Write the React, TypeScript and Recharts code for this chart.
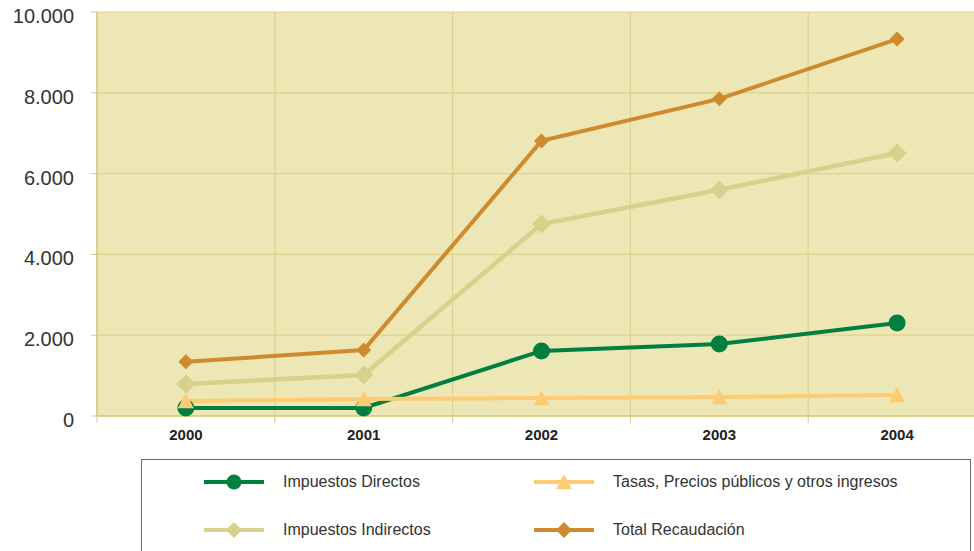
import React from 'react';
import { LineChart, Line, XAxis, YAxis, CartesianGrid } from 'recharts';

const years = ['2000', '2001', '2002', '2003', '2004'];
const directos = [200, 200, 1610, 1780, 2300];
const tasas = [370, 420, 445, 470, 520];
const indirectos = [790, 1015, 4750, 5600, 6510];
const total = [1340, 1635, 6810, 7850, 9330];
const yTicks = [0, 2000, 4000, 6000, 8000, 10000];
const labelTicks = [0, 1, 2, 3, 4];
const bandEdges = [-0.5, 0.5, 1.5, 2.5, 3.5, 4.5];

const data = years.map((y, i) => ({
  idx: i,
  year: y,
  directos: directos[i],
  tasas: tasas[i],
  indirectos: indirectos[i],
  total: total[i],
}));

type Shape = 'circle' | 'triangle' | 'diamond';

const series: { key: string; name: string; color: string; shape: Shape; size: number; width: number }[] = [
  { key: 'directos', name: 'Impuestos Directos', color: '#007F3F', shape: 'circle', size: 8.5, width: 4 },
  { key: 'tasas', name: 'Tasas, Precios públicos y otros ingresos', color: '#FDCB72', shape: 'triangle', size: 8, width: 4 },
  { key: 'indirectos', name: 'Impuestos Indirectos', color: '#D8D08B', shape: 'diamond', size: 9.5, width: 4.5 },
  { key: 'total', name: 'Total Recaudación', color: '#CE8A2E', shape: 'diamond', size: 7.5, width: 4 },
];

const fmt = (v: number) => v.toLocaleString('de-DE');

function marker(shape: Shape, color: string, s: number, cx: number, cy: number, key?: string) {
  if (shape === 'circle') return <circle key={key} cx={cx} cy={cy} r={s} fill={color} />;
  if (shape === 'triangle')
    return <polygon key={key} points={`${cx},${cy - s} ${cx + s},${cy + s * 0.9} ${cx - s},${cy + s * 0.9}`} fill={color} />;
  return <polygon key={key} points={`${cx},${cy - s} ${cx + s},${cy} ${cx},${cy + s} ${cx - s},${cy}`} fill={color} />;
}

const makeDot = (shape: Shape, color: string, s: number) => (props: any) => {
  const { cx, cy, index } = props;
  if (cx == null || cy == null) return <g key={`e-${index}`} />;
  return marker(shape, color, s, cx, cy, `d-${index}`);
};

const YTick = (props: any) => {
  const { x, y, payload } = props;
  return (
    <text x={x} y={y} dy={11} textAnchor="end" fill="#333" fontSize={20}>
      {fmt(payload.value)}
    </text>
  );
};

const AXIS = '#D6CA80';
const GRID = '#DDD38E';

export default function App() {
  return (
    <div
      style={{
        position: 'fixed',
        left: 0,
        top: 0,
        width: 974,
        height: 551,
        overflow: 'hidden',
        background: '#fff',
        fontFamily: '"Liberation Sans", Arial, sans-serif',
      }}
    >
      <LineChart width={1000} height={551} data={data} margin={{ top: 12, right: 14, left: 0, bottom: 98 }}>
        <CartesianGrid xAxisId="a0" fill="#EDE7B5" fillOpacity={1} stroke={GRID} strokeWidth={1.2} />
        <XAxis
          xAxisId="b1"
          type="number"
          dataKey="idx"
          domain={[-0.5, 4.5]}
          ticks={labelTicks}
          tickFormatter={(v: number) => years[v] ?? ''}
          height={30}
          tickSize={0}
          tickMargin={6}
          axisLine={false}
          tickLine={false}
          tick={{ fill: '#222', fontSize: 15, fontWeight: 'bold' }}
          allowDataOverflow
        />
        <XAxis
          xAxisId="a0"
          type="number"
          dataKey="idx"
          domain={[-0.5, 4.5]}
          ticks={bandEdges}
          tickFormatter={() => ''}
          height={7}
          tickSize={7}
          tickMargin={0}
          axisLine={{ stroke: AXIS, strokeWidth: 1.5 }}
          tickLine={{ stroke: AXIS, strokeWidth: 1 }}
          allowDataOverflow
        />
        <YAxis
          type="number"
          domain={[0, 10000]}
          ticks={yTicks}
          width={97}
          tickSize={6}
          tickMargin={17}
          axisLine={{ stroke: AXIS, strokeWidth: 1.5 }}
          tickLine={{ stroke: AXIS, strokeWidth: 1 }}
          tick={<YTick />}
          interval={0}
        />
        {series.map((s) => (
          <Line
            key={s.key}
            xAxisId="b1"
            type="linear"
            dataKey={s.key}
            name={s.name}
            stroke={s.color}
            strokeWidth={s.width}
            dot={makeDot(s.shape, s.color, s.size)}
            activeDot={false}
            isAnimationActive={false}
          />
        ))}
      </LineChart>
      <div
        style={{
          position: 'absolute',
          left: 141,
          top: 459,
          width: 830,
          height: 120,
          border: '1.5px solid #666',
          boxSizing: 'border-box',
          background: '#fff',
        }}
      >
        {series.map((s, i) => {
          const col = i === 0 || i === 2 ? 0 : 1;
          const row = i < 2 ? 0 : 1;
          return (
            <div
              key={s.key}
              style={{
                position: 'absolute',
                left: 61 + col * 330,
                top: 22 - 13 + row * 48,
                height: 26,
                display: 'flex',
                alignItems: 'center',
                fontSize: 16,
                color: '#333',
                whiteSpace: 'nowrap',
              }}
            >
              <svg width={62} height={26} style={{ display: 'block' }}>
                <line x1={1} y1={13} x2={61} y2={13} stroke={s.color} strokeWidth={4} />
                {marker(s.shape, s.color, s.shape === 'circle' ? 7.5 : 8, 31, 13)}
              </svg>
              <span style={{ marginLeft: 18 }}>{s.name}</span>
            </div>
          );
        })}
      </div>
    </div>
  );
}
